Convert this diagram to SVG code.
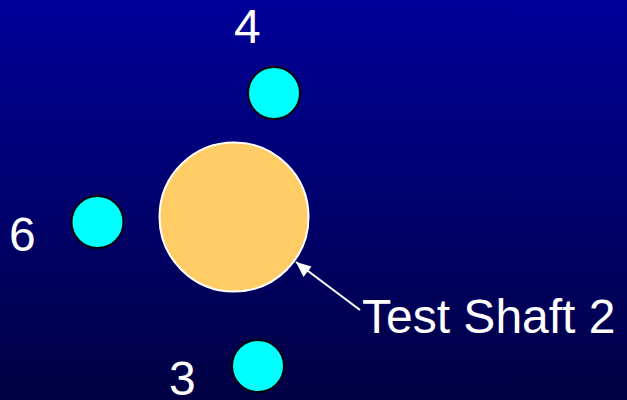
<svg xmlns="http://www.w3.org/2000/svg" width="627" height="400" viewBox="0 0 627 400">
  <defs>
    <linearGradient id="bg" x1="0" y1="0" x2="0" y2="1">
      <stop offset="0" stop-color="#000099"/>
      <stop offset="1" stop-color="#000042"/>
    </linearGradient>
    <marker id="arrow" viewBox="0 0 10 10" refX="9" refY="5" markerWidth="8" markerHeight="8" markerUnits="userSpaceOnUse" orient="auto">
      <path d="M0,0 L10,5 L0,10 z" fill="#ffffff"/>
    </marker>
    <style>
      .lbl { font-family: "Liberation Sans", Arial, sans-serif; font-size: 48px; fill: #ffffff; }
      .pin { fill: #00ffff; stroke: #000000; stroke-width: 2; }
    </style>
  </defs>
  <rect width="627" height="400" fill="url(#bg)"/>
  <g id="shaft">
    <circle cx="234" cy="217" r="74.5" fill="#ffcc66" stroke="#ffffff" stroke-width="2"/>
  </g>
  <g id="pin4">
    <circle class="pin" cx="274" cy="93" r="26"/>
    <text class="lbl" x="234" y="43">4</text>
  </g>
  <g id="pin6">
    <circle class="pin" cx="97.5" cy="222" r="26"/>
    <text class="lbl" x="9" y="251">6</text>
  </g>
  <g id="pin3">
    <circle class="pin" cx="258" cy="366" r="26"/>
    <text class="lbl" x="169" y="395">3</text>
  </g>
  <g id="connectors">
    <line x1="360" y1="310" x2="296" y2="262" stroke="#ffffff" stroke-width="2"/>
    <path d="M296,262 L311.5,266.5 L303.5,277 z" fill="#ffffff"/>
  </g>
  <g id="label">
    <text class="lbl" x="362" y="333">Test Shaft 2</text>
  </g>
</svg>
